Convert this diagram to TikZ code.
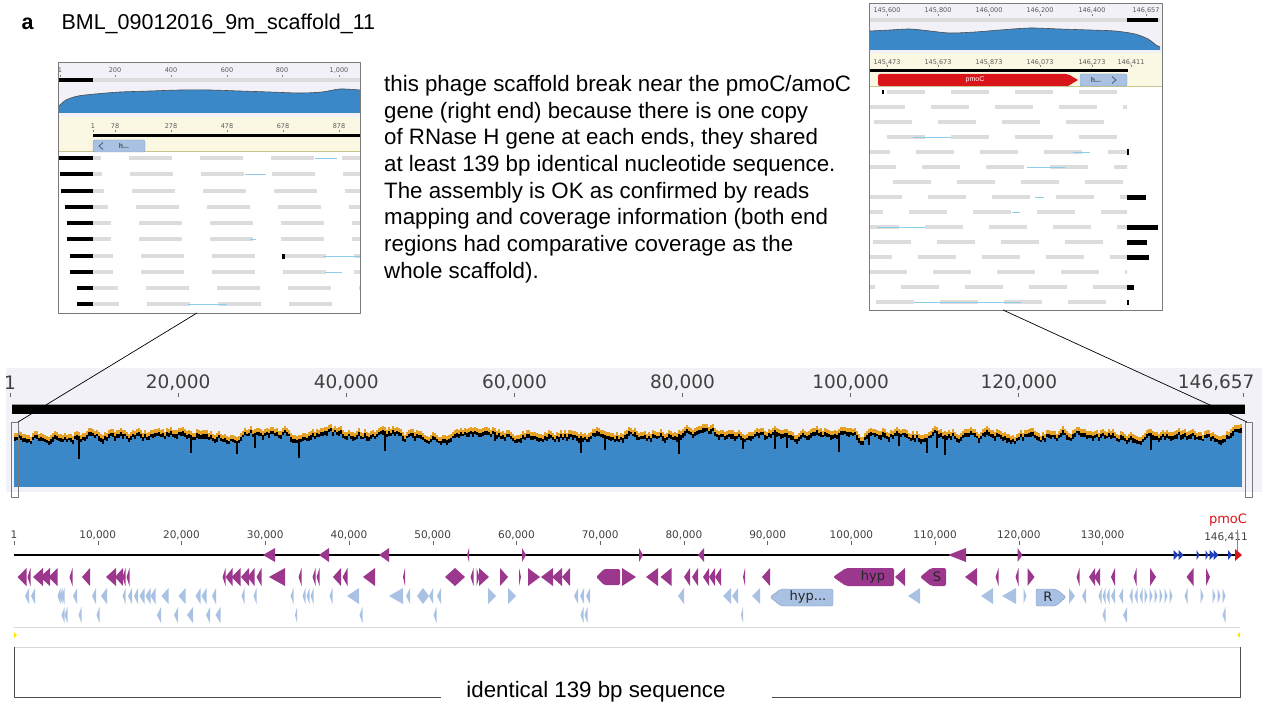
\documentclass[tikz,border=0pt]{standalone}
\usepackage{fontspec}
\setmainfont{Liberation Sans}
\newfontfamily\rulerfont{DejaVu Sans}
\definecolor{CovBlue}{HTML}{3A88C8}
\definecolor{CovOrange}{HTML}{E6A226}
\definecolor{PanelBg}{HTML}{F1F1F7}
\definecolor{BandYellow}{HTML}{FAF8E2}
\definecolor{BandLine}{HTML}{C9C38E}
\definecolor{ReadGray}{HTML}{DCDCDC}
\definecolor{ReadLink}{HTML}{8CCDEB}
\definecolor{GenePurple}{HTML}{9B378C}
\definecolor{GeneBlue}{HTML}{A9C2E4}
\definecolor{GeneEdge}{HTML}{7E98BE}
\definecolor{TagBlue}{HTML}{1F3FBF}
\definecolor{TagRed}{HTML}{D9151B}
\definecolor{FrameGray}{HTML}{7A7A7A}
\tikzset{
  mainfont/.style={font=\fontsize{22.3}{26.7}\selectfont},
  bigruler/.style={font=\rulerfont\fontsize{18.5}{20}\selectfont, text=black!75},
  genruler/.style={font=\rulerfont\fontsize{10.5}{12}\selectfont, text=black!75},
  tinyruler/.style={font=\rulerfont\fontsize{6.5}{7}\selectfont, text=black!65},
  insetframe/.style={draw=FrameGray, line width=0.9pt},
  readbar/.style={fill=ReadGray},
  readlink/.style={draw=ReadLink, line width=0.8pt},
  purplegene/.style={fill=GenePurple},
  bluegene/.style={fill=GeneBlue},
  genelabel/.style={font=\rulerfont\fontsize{13}{14}\selectfont, text=black!85},
}
\begin{document}
\begin{tikzpicture}[x=1pt, y=-1pt, line join=round]
\useasboundingbox (0,0) rectangle (1266,706);

% heading and note
\node[anchor=base west, font=\bfseries\fontsize{21.5}{24}\selectfont] (panel) at (18,30) {a};
\node[anchor=base west, font=\fontsize{21.5}{24}\selectfont] (title) at (58,30) {BML\_09012016\_9m\_scaffold\_11};
\node[anchor=north west, align=left, inner sep=0pt, mainfont] (note) at (384,75)
  {this phage scaffold break near the pmoC/amoC\\
   gene (right end) because there is one copy\\
   of RNase H gene at each ends, they shared\\
   at least 139 bp identical nucleotide sequence.\\
   The assembly is OK as confirmed by reads\\
   mapping and coverage information (both end\\
   regions had comparative coverage as the\\
   whole scaffold).};

% left inset (start of scaffold)
\fill[PanelBg] (58,62) rectangle (360,117);
\foreach \x/\t in {60/1, 115/200, 171/400, 227/600, 282/800, 339/{1,000}}{
  \node[tinyruler] at (\x,70) {\t};
  \draw[black!50] (\x,75) -- (\x,77);
}
\fill[ReadGray] (59,78) rectangle (360,82);
\fill[black] (59,78) rectangle (93,82);
\def\leftcov{(59,106) (66,100) (78,96) (95,94) (120,92) (150,91) (180,90) (210,90) (240,91) (270,92) (300,93) (322,92) (340,89) (360,90)}
\fill[CovBlue] (59,113) -- plot[smooth] coordinates {\leftcov} -- (360,113) -- cycle;
\draw[black!70, line width=0.6pt] plot[smooth] coordinates {\leftcov};
\fill[BandYellow] (58,117) rectangle (360,152);
\draw[BandLine, line width=1pt] (58,152) -- (360,152);
\foreach \x/\t in {93/1, 115/78, 171/278, 227/478, 283/678, 339/878}{
  \node[tinyruler] at (\x,126) {\t};
  \draw[black!50] (\x,130) -- (\x,132);
}
\fill[black] (93,134) rectangle (360,137.5);
\draw[bluegene, draw=GeneEdge, rounded corners=2pt] (93,140) rectangle (145,152);
\draw[GeneEdge!70!black, line width=1pt] (103,142.5) -- (99,146) -- (103,149.5);
\node[font=\bfseries\fontsize{7}{8}\selectfont, text=black!70] (lefth) at (124,146) {h...};
\foreach \y/\bs/\o in {158/59/129, 174/60/130, 191/61/132, 207/65/136, 223/67/139,
                       239/67/139, 256/70/141, 272/70/141, 288/77/146, 304/77/147}{
  \fill[black] (\bs,\y-2.2) rectangle (93,\y+2.2);
  \begin{scope}
    \clip (93,\y-3) rectangle (360,\y+3);
    \foreach \k in {-1,...,3}
      \fill[readbar] ({\o+71*\k},\y-2) rectangle ++(43,4);
  \end{scope}
}
\foreach \y/\a/\b in {158/315/337, 174/245/266, 239/250/256, 256/323/360, 272/325/342, 304/188/227}
  \draw[readlink] (\a,\y) -- (\b,\y);
\fill[black] (282,254) rectangle (284.5,258.5);
\draw[insetframe] (58,62) rectangle (360,313);
\coordinate (lzoom) at (197,313);

% right inset (end of scaffold)
\fill[PanelBg] (869,3) rectangle (1162,53);
\foreach \x/\t in {887/{145,600}, 938/{145,800}, 989/{146,000}, 1040/{146,200}, 1092/{146,400}, 1146/{146,657}}{
  \node[tinyruler] at (\x,10) {\t};
  \draw[black!50] (\x,14) -- (\x,16);
}
\fill[ReadGray] (870,18) rectangle (1160,22);
\fill[black] (1127,18) rectangle (1158,22);
\def\rightcov{(870,31) (890,30) (910,29) (930,31) (950,33) (975,32) (1000,30) (1030,28) (1060,29) (1090,30) (1115,31) (1135,34) (1148,39) (1156,45) (1160,47)}
\fill[CovBlue] (870,50) -- plot[smooth] coordinates {\rightcov} -- (1160,50) -- cycle;
\draw[black!70, line width=0.6pt] plot[smooth] coordinates {\rightcov};
\fill[BandYellow] (869,53) rectangle (1162,87);
\draw[BandLine, line width=1pt] (869,87) -- (1162,87);
\foreach \x/\t in {887/{145,473}, 938/{145,673}, 989/{145,873}, 1040/{146,073}, 1092/{146,273}, 1131/{146,411}}{
  \node[tinyruler] at (\x,62) {\t};
  \draw[black!50] (\x,65.5) -- (\x,67.5);
}
\fill[black] (870,69) rectangle (1128,72.5);
\fill[TagRed, rounded corners=2pt] (878,74) -- (1068,74) [sharp corners] -- (1078,80) -- (1068,86) [rounded corners=2pt] -- (878,86) -- cycle;
\node[font=\fontsize{7}{8}\selectfont, text=white] (pmocbox) at (975,80) {pmoC};
\draw[bluegene, draw=GeneEdge, rounded corners=2pt] (1080,74) rectangle (1127,86);
\draw[GeneEdge!70!black, line width=1pt] (1112,76.5) -- (1116,80) -- (1112,83.5);
\node[font=\bfseries\fontsize{7}{8}\selectfont, text=black!70] (righth) at (1096,80) {h...};
\foreach \y/\o in {92/887, 107/867, 122/874, 137/887, 152/852, 167/858, 182/893, 197/864,
                   212/845, 227/861, 242/873, 257/854, 272/869, 287/837, 302/876}{
  \begin{scope}
    \clip (870,\y-3) rectangle (1127,\y+3);
    \foreach \k in {-1,...,4}
      \fill[readbar] ({\o+64*\k},\y-2) rectangle ++(38,4);
  \end{scope}
}
\foreach \y/\a/\b in {137/913/951, 152/1073/1090, 167/1027/1065, 197/1035/1044, 212/1012/1020, 227/877/925, 302/914/1021}
  \draw[readlink] (\a,\y) -- (\b,\y);
\foreach \y/\e in {152/1129, 197/1146, 227/1158, 242/1147, 257/1149, 287/1134, 302/1129}
  \fill[black] (1127,\y-2.5) rectangle (\e,\y+2.5);
\fill[black] (882,90) rectangle (884,94);
\draw[insetframe] (869,3) rectangle (1162,310);
\coordinate (rzoom) at (1003,310);

% whole scaffold coverage panel
\fill[PanelBg] (6,368) rectangle (1262,492);
\node[bigruler] (t1) at (10,383) {1};
\draw[black!60, line width=0.8pt] (10,393) -- (10,397);
\foreach \p/\t in {20/{20,000}, 40/{40,000}, 60/{60,000}, 80/{80,000}, 100/{100,000}, 120/{120,000}}{
  \node[bigruler] at ({10+8.407*\p},383) {\t};
  \draw[black!60, line width=0.8pt] ({10+8.407*\p},393) -- ({10+8.407*\p},397);
}
\node[bigruler, anchor=east] (tend) at (1258,383) {146,657};
\draw[black!60, line width=0.8pt] (1243,393) -- (1243,397);
\draw[black!40, line width=0.6pt] (12,404) -- (1245,404);
\fill[black] (12,405) rectangle (1245,414);
\pgfmathsetseed{11}
\xdef\lev{0}
\foreach \x in {14,16,...,1240}{
  \pgfmathsetmacro\nl{max(-8,min(6,0.8*\lev+3*rand))}
  \xdef\lev{\nl}
  \pgfmathsetmacro\dip{(rnd>0.96)*(4+14*rnd)}
  \pgfmathsetmacro\thk{2.5+2.5*rnd}
  \fill[CovBlue] (\x,436+\lev) rectangle (\x+2.4,487);
  \fill[CovOrange] (\x,431+\lev) rectangle (\x+2.4,435+\lev);
  \fill[black] (\x,435+\lev) rectangle (\x+2.4,435+\lev+\thk+\dip);
}
\draw[FrameGray, line width=0.7pt] (11,422) rectangle (18,497);
\draw[FrameGray, line width=0.7pt] (1245,422) rectangle (1252,497);
\coordinate (lmark) at (18,422);
\coordinate (rmark) at (1247,422);
\draw[black, line width=0.7pt] (lzoom) -- (lmark);
\draw[black, line width=0.7pt] (rzoom) -- (rmark);

% annotation track
\node[genruler] (g1) at (14,535) {1};
\draw[black!60] (14,541) -- (14,545);
\foreach \p/\t in {10/{10,000}, 20/{20,000}, 30/{30,000}, 40/{40,000}, 50/{50,000}, 60/{60,000}, 70/{70,000},
                   80/{80,000}, 90/{90,000}, 100/{100,000}, 110/{110,000}, 120/{120,000}, 130/{130,000}}{
  \node[genruler] at ({14+8.374*\p},535) {\t};
  \draw[black!60] ({14+8.374*\p},541) -- ({14+8.374*\p},545);
}
\node[genruler] (gend) at (1226,537) {146,411};
\node[font=\rulerfont\fontsize{13}{14}\selectfont, text=TagRed] (pmoc) at (1228,520) {pmoC};
\draw[TagRed!70, line width=0.6pt] (pmoc.south -| 1237,0) -- (1237,555);
\draw[black, line width=2.4pt] (14,555) -- (1240,555);
% genes on the scaffold line
\foreach \x/\d/\w in {269/-1/12, 324/-1/10, 384/-1/10, 468/-1/2, 524/1/4, 641/1/4, 701/-1/6, 957/-1/18, 1020/1/5}
  \fill[purplegene] ({\x-(\d)*\w/2},548) -- ({\x+(\d)*\w/2},555) -- ({\x-(\d)*\w/2},562) -- cycle;
\foreach \x/\d/\w in {1176/1/5, 1181/1/5, 1198/1/3, 1207/1/3, 1212/1/5, 1216/1/5, 1230/1/4}
  \fill[TagBlue] ({\x-(\d)*\w/2},550) -- ({\x+(\d)*\w/2},555) -- ({\x-(\d)*\w/2},560) -- cycle;
\fill[TagRed] (1235,549) -- (1242,555) -- (1235,561) -- cycle;
% purple gene row
\foreach \x/\d/\w in {22/-1/9, 29/-1/3, 38/-1/10, 45/-1/10, 53/-1/9, 71/-1/3, 86/-1/8, 111/-1/10, 119/-1/8,
    124/-1/3, 128/-1/3, 224/-1/3, 229/-1/7, 236/-1/9, 245/-1/8, 251/-1/7, 259/-1/5, 277/-1/16, 300/-1/3,
    314/-1/3, 318/-1/3, 337/-1/8, 345/-1/5, 369/-1/12, 404/-1/2, 472/-1/3, 478/1/3, 484/1/10, 504/1/8,
    520/1/2, 534/1/12, 547/-1/12, 557/-1/10, 566/-1/8, 629/1/14, 652/-1/12, 666/-1/11, 687/-1/6, 695/-1/6,
    706/-1/6, 712/-1/6, 718/-1/6, 744/-1/2, 766/-1/8, 900/-1/10, 971/-1/12, 997/-1/3, 1017/-1/3, 1031/1/7,
    1078/-1/3, 1092/-1/6, 1097/-1/6, 1113/-1/4, 1135/-1/3, 1153/1/6, 1190/-1/7, 1208/1/4}
  \fill[purplegene] ({\x-(\d)*\w/2},568) -- ({\x+(\d)*\w/2},577) -- ({\x-(\d)*\w/2},586) -- cycle;
\fill[purplegene] (445,577) -- (455,568) -- (465,577) -- (455,586) -- cycle;
\fill[purplegene, rounded corners=1.5pt] (596,577) -- (604,569) -- (620,569) -- (620,585) -- (604,585) -- cycle;
\fill[purplegene, rounded corners=2pt] (833,577) -- (846,568) -- (894,568) -- (894,586) -- (846,586) -- cycle;
\node[genelabel] (hyp) at (873,577) {hyp};
\fill[purplegene, rounded corners=2pt] (920,577) -- (931,568) -- (946,568) -- (946,586) -- (931,586) -- cycle;
\node[genelabel] (sgene) at (937,577) {S};
% light blue gene rows
\foreach \x/\d/\w in {27/-1/4, 33/-1/4, 59/-1/3, 61/-1/3, 63/-1/3, 75/-1/4, 94/-1/4, 104/-1/6, 124/-1/3,
    130/-1/4, 136/-1/4, 142/-1/5, 148/-1/5, 153/-1/5, 165/-1/7, 182/-1/7, 198/-1/5, 204/-1/5, 214/-1/4,
    243/-1/3, 255/-1/3, 292/-1/3, 304/-1/3, 308/-1/3, 312/-1/3, 331/-1/3, 353/-1/12, 396/-1/14, 408/-1/4,
    420/-1/6, 426/1/6, 431/-1/4, 439/-1/4, 492/1/8, 512/1/8, 576/-1/4, 582/-1/4, 588/-1/4, 681/-1/6,
    727/-1/8, 735/-1/6, 756/-1/8, 914/-1/12, 987/-1/12, 1009/-1/14, 1025/1/3, 1072/1/6, 1084/-1/4,
    1100/-1/3, 1104/-1/3, 1108/-1/3, 1113/-1/4, 1121/-1/4, 1131/-1/3, 1136/-1/3, 1141/-1/3, 1146/1/3,
    1151/1/3, 1156/1/3, 1161/1/3, 1166/1/3, 1171/1/3, 1186/-1/3, 1202/1/3, 1214/1/3, 1219/1/3, 1224/1/3}
  \fill[bluegene] ({\x-(\d)*\w/2},588) -- ({\x+(\d)*\w/2},596) -- ({\x-(\d)*\w/2},604) -- cycle;
\foreach \x/\d/\w in {63/-1/3, 66/-1/3, 80/-1/3, 98/-1/3, 159/-1/4, 176/-1/4, 190/-1/6, 208/-1/4, 218/-1/5,
    296/-1/2, 361/-1/3, 435/-1/3, 582/-1/3, 586/-1/3, 742/-1/2, 1104/-1/3, 1125/-1/4, 1224/-1/3}
  \fill[bluegene] ({\x-(\d)*\w/2},607) -- ({\x+(\d)*\w/2},615) -- ({\x-(\d)*\w/2},623) -- cycle;
\draw[bluegene, draw=GeneEdge, rounded corners=2pt] (770,597) -- (781,589) -- (833,589) -- (833,606) -- (781,606) -- cycle;
\node[genelabel] (hypdots) at (808,597) {hyp...};
\draw[bluegene, draw=GeneEdge, rounded corners=2pt] (1036,589) -- (1056,589) -- (1066,597) -- (1056,606) -- (1036,606) -- cycle;
\node[genelabel] (rgene) at (1048,597) {R};
\draw[black!15, line width=1pt] (14,627) -- (1240,627);
\fill[yellow!90!orange] (14,632) -- (17,635) -- (14,638) -- cycle;
\fill[yellow!90!orange] (1240,632) -- (1237,635) -- (1240,638) -- cycle;
\draw[black!15, line width=1pt] (14,647) -- (1240,647);

% identical end sequence bracket
\node[anchor=base, mainfont] (ident) at (596,697) {identical 139 bp sequence};
\coordinate (lend) at (14,647);
\coordinate (rend) at (1240,647);
\draw[black!70, line width=0.9pt] (lend) |- ([xshift=-22pt]ident.base west);
\draw[black!70, line width=0.9pt] (rend) |- ([xshift=43pt]ident.base east);
\end{tikzpicture}
\end{document}
